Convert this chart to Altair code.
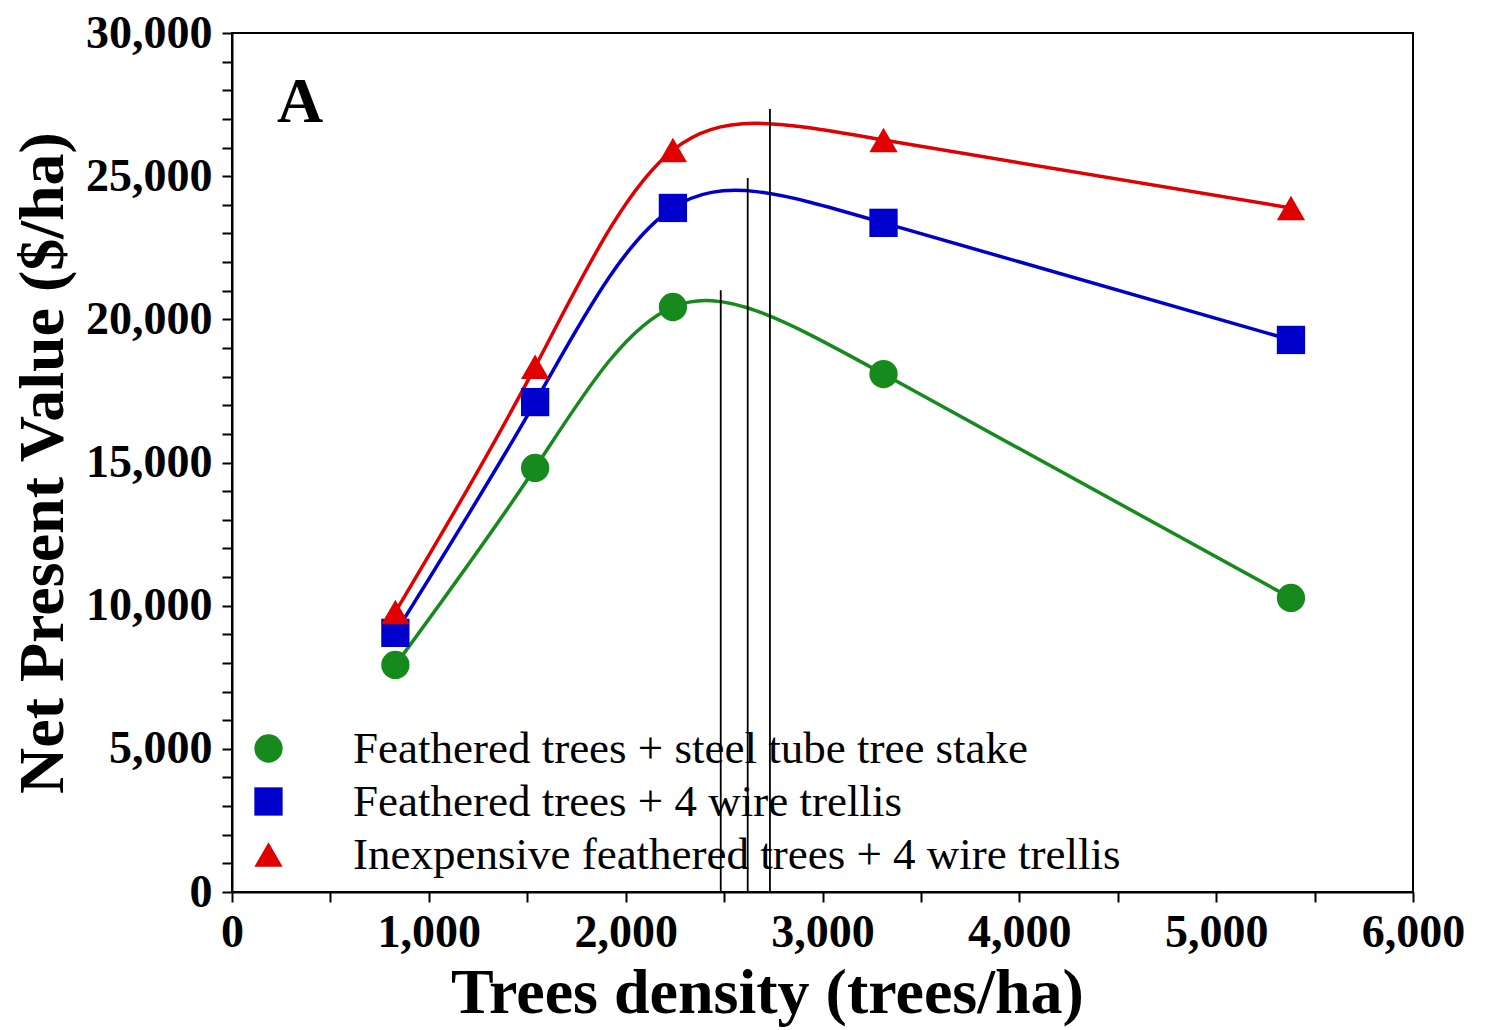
import altair as alt
import pandas as pd

# ---- data ----
density = [830, 1540, 2240, 3310, 5380]
series_names = [
    "Feathered trees + steel tube tree stake",
    "Feathered trees + 4 wire trellis",
    "Inexpensive feathered trees + 4 wire trellis",
]
npv_steel = [7930, 14810, 20430, 18090, 10270]
npv_trellis = [9050, 17110, 23890, 23370, 19280]
npv_cheap = [9780, 18340, 25910, 26260, 23890]

peak_density = [2483, 2620, 2733]
peak_npv = [21020, 24940, 27350]
peak_base = [0, 0, 0]

x_ticks = [0, 500, 1000, 1500, 2000, 2500, 3000, 3500, 4000, 4500, 5000, 5500, 6000]
y_ticks = [0, 1000, 2000, 3000, 4000, 5000, 6000, 7000, 8000, 9000, 10000,
           11000, 12000, 13000, 14000, 15000, 16000, 17000, 18000, 19000, 20000,
           21000, 22000, 23000, 24000, 25000, 26000, 27000, 28000, 29000, 30000]

colors = ["#168a1c", "#0000cc", "#e00000"]
shapes = ["circle", "square", "triangle-up"]
panel_label = ["A"]

rows = []
for name, vals in zip(series_names, [npv_steel, npv_trellis, npv_cheap]):
    for d, v in zip(density, vals):
        rows.append({"series": name, "density": d, "npv": v})
df = pd.DataFrame(rows)

peaks = pd.DataFrame({"density": peak_density, "npv": peak_npv, "base": peak_base})

FONT = "Liberation Serif"

x_enc = alt.X(
    "density:Q",
    scale=alt.Scale(domain=[0, 6000], nice=False),
    axis=alt.Axis(
        values=x_ticks,
        labelExpr="datum.value % 1000 == 0 ? format(datum.value, ',') : ''",
        labelOverlap=False,
        labelFlush=False,
        title="Trees density (trees/ha)",
        titleX=535,
        titlePadding=6,
        labelPadding=8,
    ),
)
y_enc = alt.Y(
    "npv:Q",
    scale=alt.Scale(domain=[0, 30000], nice=False),
    axis=alt.Axis(
        values=y_ticks,
        labelExpr="datum.value % 5000 == 0 ? format(datum.value, ',') : ''",
        labelOverlap=False,
        labelFlush=False,
        title="Net Present Value ($/ha)",
        titlePadding=10,
        labelPadding=10,
    ),
)

color_scale = alt.Scale(domain=series_names, range=colors)
shape_scale = alt.Scale(domain=series_names, range=shapes)

line_layers = []
for name, col in zip(series_names, colors):
    line_layers.append(
        alt.Chart(df)
        .transform_filter(alt.datum.series == name)
        .mark_line(interpolate="natural", strokeWidth=3.5, color=col)
        .encode(x=x_enc, y=y_enc)
    )

rules = alt.Chart(peaks).mark_rule(color="black", strokeWidth=1.8).encode(
    x=x_enc,
    y=y_enc,
    y2="base:Q",
)

legend_def = alt.Legend(title=None, orient="bottom-left", offset=14)

points = alt.Chart(df).mark_point(filled=True, size=800, opacity=1).encode(
    x=x_enc,
    y=y_enc,
    color=alt.Color("series:N", scale=color_scale, legend=legend_def),
    shape=alt.Shape("series:N", scale=shape_scale, legend=legend_def),
)

label = alt.Chart(pd.DataFrame({"t": panel_label})).mark_text(
    font=FONT, fontSize=64, fontWeight="bold", color="black", baseline="middle", align="center"
).encode(x=alt.value(68), y=alt.value(70), text="t:N")

chart = alt.layer(*line_layers, rules, points, label).properties(
    width=1181,
    height=859,
    background="white",
    autosize=alt.AutoSizeParams(type="none"),
    padding={"left": 232, "top": 33, "right": 78, "bottom": 138},
).configure_view(
    stroke="black", strokeWidth=2
).configure_axis(
    grid=False,
    domainColor="black",
    domainWidth=2,
    tickColor="black",
    tickWidth=2,
    tickSize=10,
    labelFont=FONT,
    labelFontSize=46,
    labelFontWeight="bold",
    labelColor="black",
    titleFont=FONT,
    titleFontSize=64,
    titleFontWeight="bold",
    titleColor="black",
).configure_legend(
    labelFont=FONT,
    labelFontSize=45,
    labelColor="black",
    labelLimit=2000,
    symbolSize=800,
    symbolStrokeWidth=0,
    labelOffset=62,
    rowPadding=7,
    padding=0,
)

chart.save("out.html", embed_options={"renderer": "svg", "actions": False})
